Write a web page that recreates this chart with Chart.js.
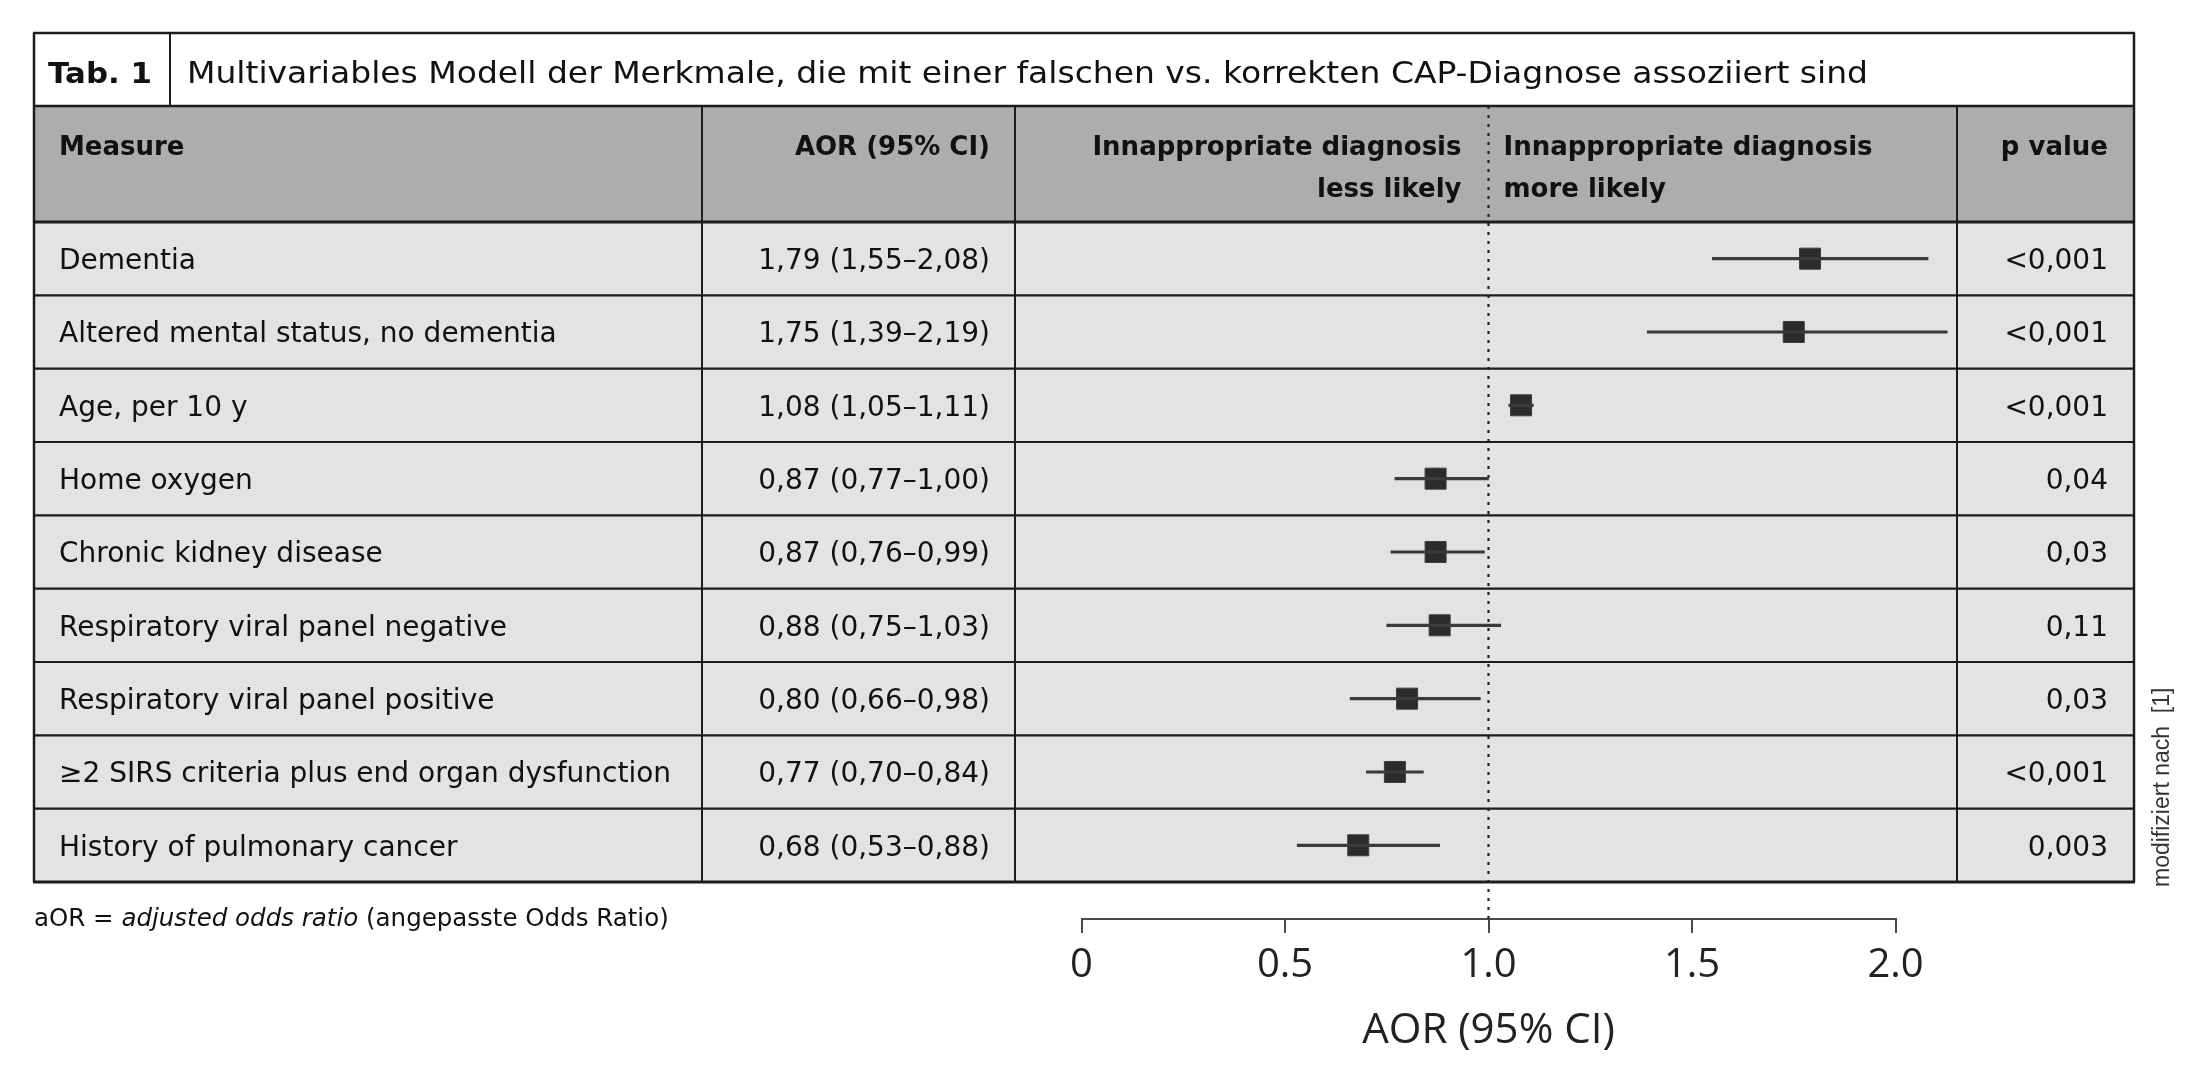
<!DOCTYPE html>
<html><head><meta charset="utf-8">
<script src="https://cdn.jsdelivr.net/npm/chart.js@4.4.1/dist/chart.umd.min.js"></script>
<style>html,body{margin:0;padding:0;background:#fff;overflow:hidden}canvas{display:block}</style>
</head><body>
<canvas id="c" width="2204" height="1072"></canvas>
<script>
// ---------- data ----------
const measures = [
  'Dementia',
  'Altered mental status, no dementia',
  'Age, per 10 y',
  'Home oxygen',
  'Chronic kidney disease',
  'Respiratory viral panel negative',
  'Respiratory viral panel positive',
  '\u22652 SIRS criteria plus end organ dysfunction',
  'History of pulmonary cancer'
];
const aor    = [1.79, 1.75, 1.08, 0.87, 0.87, 0.88, 0.80, 0.77, 0.68];
const ciLow  = [1.55, 1.39, 1.05, 0.77, 0.76, 0.75, 0.66, 0.70, 0.53];
const ciHigh = [2.08, 2.19, 1.11, 1.00, 0.99, 1.03, 0.98, 0.84, 0.88];
const pValues = ['<0,001', '<0,001', '<0,001', '0,04', '0,03', '0,11', '0,03', '<0,001', '0,003'];
const tickValues = [0, 0.5, 1, 1.5, 2];
const tickLabels = ['0', '0.5', '1.0', '1.5', '2.0'];
const axisTitle = 'AOR (95% CI)';
const tableTag = 'Tab. 1';
const tableTitle = 'Multivariables Modell der Merkmale, die mit einer falschen vs. korrekten CAP-Diagnose assoziiert sind';
const headMeasure = 'Measure';
const headAor = 'AOR (95% CI)';
const headLess = ['Innappropriate diagnosis', 'less likely'];
const headMore = ['Innappropriate diagnosis', 'more likely'];
const headP = 'p value';
const footnoteParts = [['aOR = ', false], ['adjusted odds ratio', true], [' (angepasste Odds Ratio)', false]];
const credit = 'modifiziert nach  [1]';

// ---------- layout ----------
const W = 2204, H = 1072;
const L = {
  titleTop: 33, headerTop: 106, rowsTop: 222, rowH: 73.33, axisY: 919,
  cols: [34, 702, 1015, 1957, 2134], tagDiv: 170,
  plotLeft: 1081.5, plotRight: 1895.5
};
const yMin = -0.5 - (L.rowsTop - L.headerTop) / L.rowH;
const yMax = yMin + (L.axisY - L.headerTop) / L.rowH;
const fmt = v => v.toFixed(2).replace('.', ',');
const aorText = aor.map((v, i) => `${fmt(v)} (${fmt(ciLow[i])}\u2013${fmt(ciHigh[i])})`);
const TF = '"DejaVu Sans", "Open Sans", sans-serif';

function fitText(ctx, text, x, y, targetW) {
  const w = ctx.measureText(text).width;
  ctx.save();
  ctx.translate(x, y);
  ctx.scale(targetW / w, 1);
  ctx.textAlign = 'left';
  ctx.fillText(text, 0, 0);
  ctx.restore();
}

const tablePlugin = {
  id: 'tablePlugin',
  beforeDraw(chart) {
    const ctx = chart.ctx, ys = chart.scales.y;
    const n = measures.length;
    const [c0, c1, c2, c3, c4] = L.cols;
    const rowTop = i => ys.getPixelForValue(i - 0.5);
    const hTop = chart.chartArea.top;
    const tTop = L.titleTop;
    const bottom = rowTop(n);
    ctx.save();
    ctx.fillStyle = '#ffffff';
    ctx.fillRect(0, 0, W, H);
    ctx.fillStyle = '#adadad';
    ctx.fillRect(c0, hTop, c4 - c0, rowTop(0) - hTop);
    ctx.fillStyle = '#e3e3e3';
    ctx.fillRect(c0, rowTop(0), c4 - c0, bottom - rowTop(0));

    ctx.strokeStyle = '#1c1c1c';
    const hline = (yy, w) => { ctx.lineWidth = w; ctx.beginPath(); ctx.moveTo(c0 - 1, yy); ctx.lineTo(c4 + 1, yy); ctx.stroke(); };
    const vline = (xx, y1, y2, w) => { ctx.lineWidth = w; ctx.beginPath(); ctx.moveTo(xx, y1); ctx.lineTo(xx, y2); ctx.stroke(); };
    hline(tTop, 2.5);
    hline(hTop, 2.5);
    for (let i = 0; i <= n; i++) hline(rowTop(i), i === 0 || i === n ? 3 : 2.2);
    vline(c0, tTop, bottom, 2.5);
    vline(c4, tTop, bottom, 2.5);
    vline(L.tagDiv, tTop, hTop, 2);
    vline(c1, hTop, bottom, 2);
    vline(c2, hTop, bottom, 2);
    vline(c3, hTop, bottom, 2);

    // title row
    ctx.fillStyle = '#111';
    ctx.textBaseline = 'alphabetic';
    ctx.textAlign = 'left';
    ctx.font = `bold 28px ${TF}`;
    fitText(ctx, tableTag, 48, 83, 104);
    ctx.font = `29.5px ${TF}`;
    fitText(ctx, tableTitle, 187, 83, 1681);

    // header
    const hb1 = hTop + 49, hb2 = hTop + 91;
    const xDot = chart.scales.x.getPixelForValue(1);
    ctx.font = `bold 26px ${TF}`;
    ctx.fillText(headMeasure, 59, hb1);
    ctx.fillText(headMore[0], xDot + 15, hb1);
    ctx.fillText(headMore[1], xDot + 15, hb2);
    ctx.textAlign = 'right';
    ctx.fillText(headAor, c2 - 25, hb1);
    ctx.fillText(headLess[0], xDot - 27, hb1);
    ctx.fillText(headLess[1], xDot - 27, hb2);
    ctx.fillText(headP, c4 - 26, hb1);

    // rows
    ctx.font = `28px ${TF}`;
    for (let i = 0; i < n; i++) {
      const b = ys.getPixelForValue(i) + 10.2;
      ctx.textAlign = 'left';
      ctx.fillText(measures[i], 59, b);
      ctx.textAlign = 'right';
      ctx.fillText(aorText[i], c2 - 25, b);
      ctx.fillText(pValues[i], c4 - 26, b);
    }

    // footnote
    ctx.textAlign = 'left';
    let fx = 34;
    for (const [t, it] of footnoteParts) {
      ctx.font = `${it ? 'italic ' : ''}24.5px ${TF}`;
      ctx.fillText(t, fx, 926);
      fx += ctx.measureText(t).width;
    }

    // credit (rotated)
    ctx.save();
    ctx.translate(2169, 887);
    ctx.rotate(-Math.PI / 2);
    ctx.font = '23px "Liberation Sans", Arial, sans-serif';
    ctx.fillStyle = '#333';
    ctx.fillText(credit, 0, 0);
    ctx.restore();
    ctx.restore();
  },
  beforeDatasetsDraw(chart) {
    const ctx = chart.ctx;
    const xp = chart.scales.x.getPixelForValue(1);
    ctx.save();
    ctx.strokeStyle = '#222';
    ctx.lineWidth = 2.2;
    ctx.setLineDash([3, 6]);
    ctx.beginPath();
    ctx.moveTo(xp, chart.chartArea.top);
    ctx.lineTo(xp, chart.chartArea.bottom);
    ctx.stroke();
    ctx.restore();
  }
};

new Chart(document.getElementById('c'), {
  type: 'bar',
  data: {
    datasets: [
      {
        type: 'bar',
        indexAxis: 'y',
        data: ciLow.map((lo, i) => ({ x: [lo, ciHigh[i]], y: i })),
        backgroundColor: '#3a3a3a',
        borderWidth: 0,
        barThickness: 2.5,
        grouped: false,
        clip: { left: 200, right: 52, top: 10, bottom: 10 }
      },
      {
        type: 'scatter',
        data: aor.map((v, i) => ({ x: v, y: i })),
        pointStyle: 'rect',
        pointRadius: 14.85,
        backgroundColor: '#2b2b2b',
        borderColor: '#3c3c3c',
        borderWidth: 1,
        clip: { left: 200, right: 52, top: 10, bottom: 10 }
      }
    ]
  },
  options: {
    indexAxis: 'y',
    responsive: false,
    devicePixelRatio: 1,
    animation: false,
    events: [],
    layout: { padding: { left: L.plotLeft, right: W - L.plotRight, top: L.headerTop, bottom: 0 } },
    plugins: { legend: { display: false }, tooltip: { enabled: false }, title: { display: false } },
    scales: {
      y: { type: 'linear', display: false, reverse: true, min: yMin, max: yMax, offset: false },
      x: {
        type: 'linear', position: 'bottom', min: 0, max: 2, offset: false,
        afterBuildTicks: s => { s.ticks = tickValues.map(v => ({ value: v })); },
        afterFit: s => { s.height = H - L.axisY; },
        grid: { display: true, drawOnChartArea: false, drawTicks: true, tickLength: 14, color: '#4a4a4a', lineWidth: 2 },
        border: { display: true, color: '#4a4a4a', width: 2 },
        ticks: {
          autoSkip: false, maxRotation: 0, padding: 9, color: '#222',
          font: { family: 'Open Sans', size: 40 },
          callback: (v, i) => tickLabels[i]
        },
        title: {
          display: true, text: axisTitle, color: '#222',
          font: { family: 'Open Sans', size: 42 },
          padding: { top: 0, bottom: 16 }
        }
      }
    }
  },
  plugins: [tablePlugin]
});
</script>
</body></html>
